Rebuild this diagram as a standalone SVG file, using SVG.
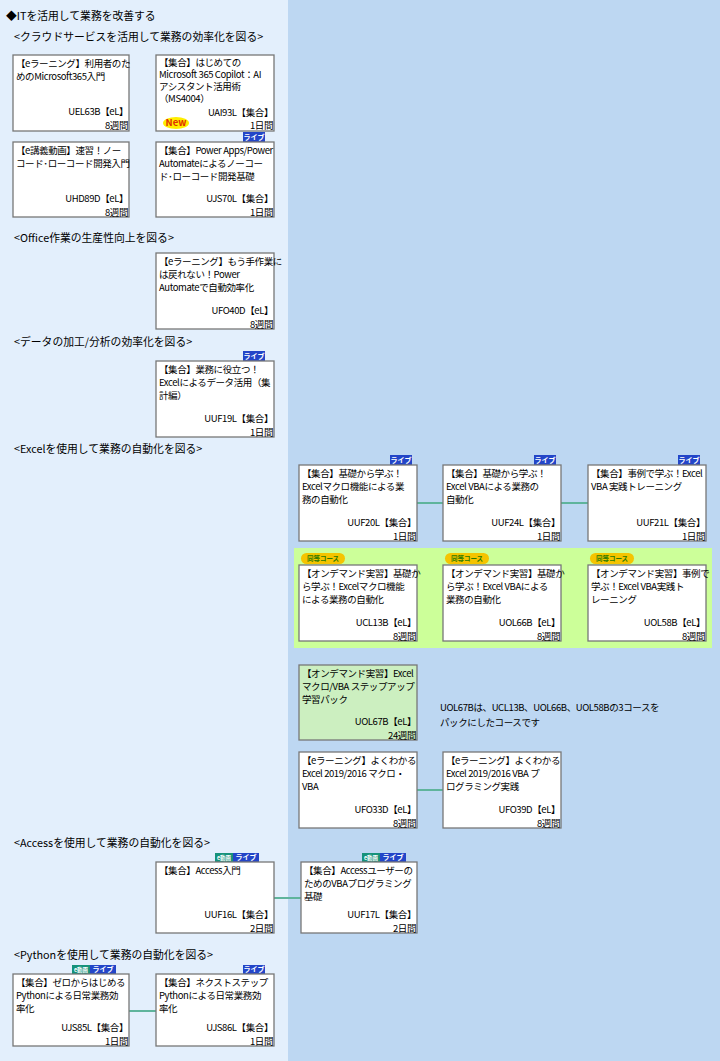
<svg xmlns="http://www.w3.org/2000/svg" width="720" height="1061" viewBox="0 0 720 1061">
<style>
text{font-family:"Noto Sans CJK JP","Liberation Sans",sans-serif;font-size:9.5px;letter-spacing:-0.4px;fill:#000}
.h{font-size:10.8px;letter-spacing:0}
.b{fill:#fff;stroke:#777;stroke-width:1.3}
.r{text-anchor:end}
.c{stroke:#5fb49c;stroke-width:2;fill:none}
.lv{fill:#2345c8}
.lt{fill:#fff;font-size:7px;font-weight:bold;letter-spacing:0}
.ev{fill:#16927a}
.eq{fill:#f5c400}
.eqt{fill:#2b7a00;font-size:6.5px;font-weight:bold;letter-spacing:0}
</style>
<rect width="720" height="1061" fill="#bdd7f2"/>
<rect x="0" y="0" width="288" height="1061" fill="#e3effc"/>
<text class="h" x="6" y="20">◆ITを活用して業務を改善する</text>
<text class="h" x="14" y="41">&lt;クラウドサービスを活用して業務の効率化を図る&gt;</text>
<text class="h" x="14" y="242">&lt;Office作業の生産性向上を図る&gt;</text>
<text class="h" x="14" y="346">&lt;データの加工/分析の効率化を図る&gt;</text>
<text class="h" x="14" y="453">&lt;Excelを使用して業務の自動化を図る&gt;</text>
<text class="h" x="14" y="847">&lt;Accessを使用して業務の自動化を図る&gt;</text>
<text class="h" x="14" y="959">&lt;Pythonを使用して業務の自動化を図る&gt;</text>
<rect x="294" y="548" width="418" height="100" fill="#ccff99"/>
<g id="connectors">
<line class="c" x1="417" y1="503" x2="443" y2="503"/>
<line class="c" x1="561" y1="503" x2="588" y2="503"/>
<line class="c" x1="417" y1="790" x2="443" y2="790"/>
<line class="c" x1="274" y1="898" x2="301" y2="898"/>
<line class="c" x1="129" y1="1011" x2="156" y2="1011"/>
</g>
<g id="UEL63B"><rect class="b" x="13" y="55" width="116" height="76"/><text x="16" y="67">【eラーニング】利用者のた</text><text x="16" y="80">めのMicrosoft365入門</text><text class="r" x="128" y="115">UEL63B【eL】</text><text class="r" x="128" y="129">8週間</text></g>
<g id="UAI93L"><rect class="b" x="156" y="55" width="118" height="76"/><text x="159" y="66">【集合】はじめての</text><text x="159" y="78">Microsoft 365 Copilot：AI</text><text x="159" y="90">アシスタント活用術</text><text x="159" y="102">（MS4004）</text><text class="r" x="273" y="116">UAI93L【集合】</text><text class="r" x="273" y="129">1日間</text><ellipse cx="176" cy="123" rx="13" ry="6" fill="#ffee00"/><text x="176" y="126" font-size="8" font-weight="bold" text-anchor="middle" style="fill:#e03000;letter-spacing:0">New</text></g>
<g id="UHD89D"><rect class="b" x="13" y="142" width="116" height="75"/><text x="16" y="154">【e講義動画】速習！ノー</text><text x="16" y="167">コード･ローコード開発入門</text><text class="r" x="128" y="202">UHD89D【eL】</text><text class="r" x="128" y="216">8週間</text></g>
<g id="UJS70L"><rect class="lv" x="243" y="132" width="22" height="10"/><text class="lt" x="254" y="140" text-anchor="middle">ライブ</text><rect class="b" x="156" y="142" width="118" height="75"/><text x="159" y="154">【集合】Power Apps/Power</text><text x="159" y="167">Automateによるノーコー</text><text x="159" y="180">ド･ローコード開発基礎</text><text class="r" x="273" y="202">UJS70L【集合】</text><text class="r" x="273" y="216">1日間</text></g>
<g id="UFO40D"><rect class="b" x="156" y="253" width="118" height="76"/><text x="159" y="265">【eラーニング】もう手作業に</text><text x="159" y="278">は戻れない！Power</text><text x="159" y="291">Automateで自動効率化</text><text class="r" x="273" y="314">UFO40D【eL】</text><text class="r" x="273" y="328">8週間</text></g>
<g id="UUF19L"><rect class="lv" x="243" y="351" width="22" height="10"/><text class="lt" x="254" y="359" text-anchor="middle">ライブ</text><rect class="b" x="156" y="361" width="118" height="76"/><text x="159" y="373">【集合】業務に役立つ！</text><text x="159" y="386">Excelによるデータ活用（集</text><text x="159" y="399">計編）</text><text class="r" x="273" y="422">UUF19L【集合】</text><text class="r" x="273" y="436">1日間</text></g>
<g id="UUF20L"><rect class="lv" x="390" y="455" width="22" height="10"/><text class="lt" x="401" y="463" text-anchor="middle">ライブ</text><rect class="b" x="299" y="465" width="118" height="76"/><text x="302" y="477">【集合】基礎から学ぶ！</text><text x="302" y="490">Excelマクロ機能による業</text><text x="302" y="503">務の自動化</text><text class="r" x="416" y="526">UUF20L【集合】</text><text class="r" x="416" y="540">1日間</text></g>
<g id="UUF24L"><rect class="lv" x="534" y="455" width="22" height="10"/><text class="lt" x="545" y="463" text-anchor="middle">ライブ</text><rect class="b" x="443" y="465" width="118" height="76"/><text x="446" y="477">【集合】基礎から学ぶ！</text><text x="446" y="490">Excel VBAによる業務の</text><text x="446" y="503">自動化</text><text class="r" x="560" y="526">UUF24L【集合】</text><text class="r" x="560" y="540">1日間</text></g>
<g id="UUF21L"><rect class="lv" x="678" y="455" width="22" height="10"/><text class="lt" x="689" y="463" text-anchor="middle">ライブ</text><rect class="b" x="588" y="465" width="118" height="76"/><text x="591" y="477">【集合】事例で学ぶ！Excel</text><text x="591" y="490">VBA 実践トレーニング</text><text class="r" x="705" y="526">UUF21L【集合】</text><text class="r" x="705" y="540">1日間</text></g>
<g id="UCL13B"><rect class="eq" x="301" y="553" width="44" height="11" rx="5.5"/><text class="eqt" x="323" y="561" text-anchor="middle">同等コース</text><rect class="b" x="299" y="565" width="118" height="76"/><text x="302" y="577">【オンデマンド実習】基礎か</text><text x="302" y="590">ら学ぶ！Excelマクロ機能</text><text x="302" y="603">による業務の自動化</text><text class="r" x="416" y="626">UCL13B【eL】</text><text class="r" x="416" y="640">8週間</text></g>
<g id="UOL66B"><rect class="eq" x="445" y="553" width="44" height="11" rx="5.5"/><text class="eqt" x="467" y="561" text-anchor="middle">同等コース</text><rect class="b" x="443" y="565" width="118" height="76"/><text x="446" y="577">【オンデマンド実習】基礎か</text><text x="446" y="590">ら学ぶ！Excel VBAによる</text><text x="446" y="603">業務の自動化</text><text class="r" x="560" y="626">UOL66B【eL】</text><text class="r" x="560" y="640">8週間</text></g>
<g id="UOL58B"><rect class="eq" x="590" y="553" width="44" height="11" rx="5.5"/><text class="eqt" x="612" y="561" text-anchor="middle">同等コース</text><rect class="b" x="588" y="565" width="118" height="76"/><text x="591" y="577">【オンデマンド実習】事例で</text><text x="591" y="590">学ぶ！Excel VBA実践ト</text><text x="591" y="603">レーニング</text><text class="r" x="705" y="626">UOL58B【eL】</text><text class="r" x="705" y="640">8週間</text></g>
<g id="UOL67B"><rect class="b" x="299" y="665" width="118" height="75" style="fill:#ccefc0"/><text x="302" y="677">【オンデマンド実習】Excel</text><text x="302" y="690">マクロ/VBA ステップアップ</text><text x="302" y="703">学習パック</text><text class="r" x="416" y="725">UOL67B【eL】</text><text class="r" x="416" y="739">24週間</text></g>
<text x="440" y="711">UOL67Bは、UCL13B、UOL66B、UOL58Bの3コースを</text>
<text x="440" y="726">パックにしたコースです</text>
<g id="UFO33D"><rect class="b" x="299" y="752" width="118" height="76"/><text x="302" y="764">【eラーニング】よくわかる</text><text x="302" y="777">Excel 2019/2016 マクロ・</text><text x="302" y="790">VBA</text><text class="r" x="416" y="813">UFO33D【eL】</text><text class="r" x="416" y="827">8週間</text></g>
<g id="UFO39D"><rect class="b" x="443" y="752" width="118" height="76"/><text x="446" y="764">【eラーニング】よくわかる</text><text x="446" y="777">Excel 2019/2016 VBA プ</text><text x="446" y="790">ログラミング実践</text><text class="r" x="560" y="813">UFO39D【eL】</text><text class="r" x="560" y="827">8週間</text></g>
<g id="UUF16L"><rect class="ev" x="215" y="853" width="18" height="9"/><text class="lt" x="224" y="860" text-anchor="middle" style="font-size:5.5px">e動画</text><rect class="lv" x="233" y="853" width="26" height="9"/><text class="lt" x="246" y="860" text-anchor="middle">ライブ</text><rect class="b" x="156" y="862" width="118" height="71"/><text x="159" y="874">【集合】Access入門</text><text class="r" x="273" y="918">UUF16L【集合】</text><text class="r" x="273" y="932">2日間</text></g>
<g id="UUF17L"><rect class="ev" x="362" y="853" width="18" height="9"/><text class="lt" x="371" y="860" text-anchor="middle" style="font-size:5.5px">e動画</text><rect class="lv" x="380" y="853" width="26" height="9"/><text class="lt" x="393" y="860" text-anchor="middle">ライブ</text><rect class="b" x="301" y="862" width="116" height="71"/><text x="304" y="874">【集合】Accessユーザーの</text><text x="304" y="887">ためのVBAプログラミング</text><text x="304" y="900">基礎</text><text class="r" x="416" y="918">UUF17L【集合】</text><text class="r" x="416" y="932">2日間</text></g>
<g id="UJS85L"><rect class="ev" x="72" y="965" width="18" height="9"/><text class="lt" x="81" y="972" text-anchor="middle" style="font-size:5.5px">e動画</text><rect class="lv" x="90" y="965" width="26" height="9"/><text class="lt" x="103" y="972" text-anchor="middle">ライブ</text><rect class="b" x="13" y="974" width="116" height="72"/><text x="16" y="986">【集合】ゼロからはじめる</text><text x="16" y="999">Pythonによる日常業務効</text><text x="16" y="1012">率化</text><text class="r" x="128" y="1031">UJS85L【集合】</text><text class="r" x="128" y="1045">1日間</text></g>
<g id="UJS86L"><rect class="lv" x="243" y="965" width="22" height="9"/><text class="lt" x="254" y="972" text-anchor="middle">ライブ</text><rect class="b" x="156" y="974" width="118" height="72"/><text x="159" y="986">【集合】ネクストステップ</text><text x="159" y="999">Pythonによる日常業務効</text><text x="159" y="1012">率化</text><text class="r" x="273" y="1031">UJS86L【集合】</text><text class="r" x="273" y="1045">1日間</text></g>
</svg>
